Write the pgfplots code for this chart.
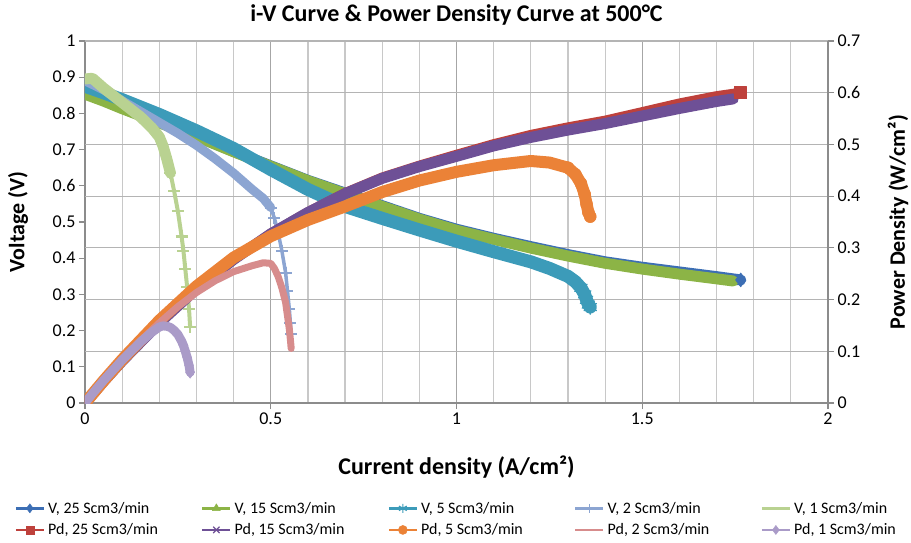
\documentclass[border=0pt]{standalone}
\usepackage{fontspec}
\setmainfont{Carlito}
\usepackage{pgfplots}
\pgfplotsset{compat=1.18}
\definecolor{cBlue}{HTML}{3C6EB4}
\definecolor{cGreen}{HTML}{8CB446}
\definecolor{cTeal}{HTML}{3C9BB9}
\definecolor{cLav}{HTML}{8CA5D2}
\definecolor{cLgreen}{HTML}{B9D291}
\definecolor{cRed}{HTML}{BE413C}
\definecolor{cPurple}{HTML}{6E5096}
\definecolor{cOrange}{HTML}{EB8237}
\definecolor{cPink}{HTML}{D78C8C}
\definecolor{cLilac}{HTML}{AA9BC8}
\definecolor{gridmaj}{HTML}{A6A6A6}
\definecolor{gridmin}{HTML}{C8C8C8}
\definecolor{gridh}{HTML}{B4B4B4}
\definecolor{axisgray}{HTML}{8C8C8C}
\pgfplotsset{
  common/.style={
    at={(0,0)}, anchor=south west, scale only axis,
    width=743pt, height=362pt,
    xmin=0, xmax=2,
    axis line style={draw=axisgray, line width=1.2pt},
    every tick/.style={draw=axisgray, line width=1.2pt},
    major tick length=6pt, minor tick length=0pt, tick align=outside,
    tick label style={font=\fontsize{18}{20}\selectfont, text=black},
    /pgf/number format/assume math mode=true,
    label style={font=\bfseries\fontsize{22}{24}\selectfont},
  },
  band/.style={line width=#1, line join=round, line cap=round, mark=none},
}
\begin{document}
\begin{tikzpicture}[x=1pt,y=1pt]
\path[use as bounding box] (-85,-139) rectangle (826,403);
% ---------- left axis: voltage ----------
\begin{axis}[common,
  ymin=0, ymax=1,
  axis x line*=bottom, axis y line*=left,
  xtick={0,0.5,1,1.5,2},
  minor xtick={0.1,0.2,0.3,0.4,0.6,0.7,0.8,0.9,1.1,1.2,1.3,1.4,1.6,1.7,1.8,1.9},
  ytick={0,0.1,0.2,0.3,0.4,0.5,0.6,0.7,0.8,0.9,1},
  extra y ticks={0.142857,0.285714,0.428571,0.571429,0.714286,0.857143,1},
  extra y tick labels={},
  extra y tick style={grid=major, major grid style={draw=gridh, line width=1.2pt}, major tick length=0pt},
  xmajorgrids, xminorgrids,
  major grid style={draw=gridmaj, line width=1.2pt},
  minor grid style={draw=gridmin, line width=1.2pt},
  xlabel={Current density (A/cm²)},
  xlabel style={font=\bfseries\fontsize{24}{26}\selectfont, at={(axis description cs:0.5,0)}, yshift=-64pt, anchor=center},
  ylabel={Voltage (V)},
  ylabel style={at={(axis description cs:-0.0902,0.5)}, anchor=center},
  title={i-V Curve \& Power Density Curve at 500°C},
  title style={font=\bfseries\fontsize{24}{26}\selectfont, at={(axis description cs:0.5,1)}, yshift=20pt, anchor=center},
]
% V, 25 Scm3/min
\addplot[cBlue, band=11pt, mark=diamond*, mark indices={20}, mark size=7pt, mark options={line width=0.5pt, fill=cBlue}] coordinates {
(0,0.86) (0.05,0.837) (0.1,0.815) (0.2,0.775) (0.3,0.737) (0.4,0.695) (0.5,0.655) (0.6,0.615) (0.7,0.58) (0.8,0.545)
(0.9,0.51) (1.0,0.48) (1.1,0.455) (1.2,0.432) (1.3,0.41) (1.4,0.39) (1.5,0.375) (1.6,0.362) (1.7,0.349) (1.765,0.34)};
% V, 15 Scm3/min
\addplot[cGreen, band=11pt] coordinates {
(0,0.853) (0.05,0.834) (0.1,0.813) (0.2,0.774) (0.3,0.736) (0.4,0.694) (0.5,0.654) (0.6,0.614) (0.7,0.578) (0.8,0.543)
(0.9,0.508) (1.0,0.477) (1.1,0.452) (1.2,0.428) (1.3,0.406) (1.4,0.386) (1.5,0.37) (1.6,0.356) (1.7,0.343) (1.745,0.337)};
% V, 5 Scm3/min
\addplot[cTeal, band=13pt, mark=asterisk, mark indices={18,19,20,21,22}, mark size=7pt, mark options={line width=1.5pt}] coordinates {
(0,0.875) (0.05,0.857) (0.1,0.838) (0.2,0.797) (0.3,0.752) (0.4,0.703) (0.5,0.645) (0.6,0.59) (0.7,0.543) (0.8,0.51)
(0.9,0.478) (1.0,0.447) (1.1,0.418) (1.2,0.39) (1.25,0.372) (1.3,0.35) (1.32,0.335) (1.335,0.318) (1.345,0.3) (1.35,0.285) (1.355,0.272) (1.36,0.265)};
% V, 2 Scm3/min
\addplot[cLav, band=9pt] coordinates {
(0,0.89) (0.05,0.865) (0.1,0.835) (0.15,0.805) (0.2,0.775) (0.25,0.745) (0.3,0.712) (0.35,0.675) (0.4,0.635) (0.45,0.59) (0.48,0.565) (0.5,0.54)};
\addplot[cLav, line width=3.5pt, mark=+, mark size=6pt, mark options={line width=2pt}] coordinates {
(0.5,0.54) (0.51,0.51) (0.52,0.47) (0.53,0.42) (0.54,0.36) (0.545,0.31) (0.55,0.26) (0.553,0.22) (0.555,0.19)};
% V, 1 Scm3/min
\addplot[cLgreen, band=11pt] coordinates {
(0,0.895) (0.02,0.897) (0.05,0.87) (0.1,0.83) (0.15,0.79) (0.18,0.76) (0.2,0.735) (0.21,0.71) (0.22,0.675) (0.23,0.635)};
\addplot[cLgreen, line width=4pt, mark=+, mark size=6pt, mark options={line width=2.5pt}] coordinates {
(0.23,0.635) (0.24,0.585) (0.25,0.53) (0.26,0.46) (0.265,0.42) (0.27,0.37) (0.275,0.32) (0.28,0.26) (0.283,0.21)};
\end{axis}
% ---------- right axis: power density ----------
\begin{axis}[common,
  ymin=0, ymax=0.7,
  axis x line=none, axis y line*=right,
  ytick={0,0.1,0.2,0.3,0.4,0.5,0.6,0.7},
  ylabel={Power Density (W/cm²)},
  ylabel style={at={(axis description cs:1.0942,0.5)}, anchor=center},
  legend image code/.code={\draw[mark repeat=2,mark phase=2,#1] plot coordinates {(0pt,0pt) (14pt,0pt) (28pt,0pt)};},
  legend columns=5,
  legend cell align=left,
  legend style={at={(axis description cs:-0.095,-0.273)}, anchor=north west, draw=none, fill=none,
    font=\fontsize{16}{19}\selectfont, inner sep=0pt, nodes={inner sep=0pt}, row sep=9pt, column sep=3pt},
]
% Pd, 25
\addplot[cRed, band=10pt, mark=square*, mark indices={20}, mark size=6pt, mark options={line width=0.5pt, fill=cRed}, forget plot] coordinates {
(0,0) (0.05,0.0419) (0.1,0.0815) (0.2,0.155) (0.3,0.2211) (0.4,0.278) (0.5,0.3275) (0.6,0.369) (0.7,0.406) (0.8,0.436)
(0.9,0.459) (1.0,0.48) (1.1,0.5005) (1.2,0.5184) (1.3,0.533) (1.4,0.546) (1.5,0.5625) (1.6,0.5792) (1.7,0.5933) (1.765,0.6)};
% Pd, 15
\addplot[cPurple, band=11pt, forget plot] coordinates {
(0,0) (0.05,0.0417) (0.1,0.0813) (0.2,0.1548) (0.3,0.2208) (0.4,0.2776) (0.5,0.327) (0.6,0.3684) (0.7,0.4046) (0.8,0.4344)
(0.9,0.4572) (1.0,0.477) (1.1,0.4972) (1.2,0.5136) (1.3,0.5278) (1.4,0.5404) (1.5,0.555) (1.6,0.5696) (1.7,0.5831) (1.745,0.5881)};
% Pd, 5
\addplot[cOrange, band=12pt, mark=*, mark indices={16,17,18,19,20,21,22}, mark size=6pt, mark options={line width=0.5pt, fill=cOrange}, forget plot] coordinates {
(0,0) (0.05,0.0429) (0.1,0.0838) (0.2,0.1594) (0.3,0.2256) (0.4,0.2812) (0.5,0.3225) (0.6,0.354) (0.7,0.3801) (0.8,0.408)
(0.9,0.4302) (1.0,0.447) (1.1,0.4598) (1.2,0.468) (1.25,0.465) (1.3,0.455) (1.32,0.4422) (1.335,0.4245) (1.345,0.4035) (1.35,0.3848) (1.355,0.3686) (1.36,0.3604)};
% Pd, 2
\addplot[cPink, band=7pt, forget plot] coordinates {
(0,0) (0.05,0.0433) (0.1,0.0835) (0.15,0.1208) (0.2,0.155) (0.25,0.1863) (0.3,0.2136) (0.35,0.2363) (0.4,0.254) (0.45,0.2655)
(0.48,0.2712) (0.5,0.27) (0.51,0.2601) (0.52,0.2444) (0.53,0.2226) (0.54,0.1944) (0.545,0.169) (0.55,0.143) (0.553,0.1217) (0.555,0.1055)};
% Pd, 1
\addplot[cLilac, band=9pt, mark=diamond*, mark indices={13,14,15,16,17,18}, mark size=6pt, mark options={line width=0.5pt, fill=cLilac}, forget plot] coordinates {
(0,0) (0.02,0.0179) (0.05,0.0435) (0.1,0.083) (0.15,0.1185) (0.18,0.1368) (0.2,0.147) (0.21,0.1491) (0.22,0.1485) (0.23,0.1461)
(0.24,0.1404) (0.25,0.1325) (0.26,0.1196) (0.265,0.1113) (0.27,0.0999) (0.275,0.088) (0.28,0.0728) (0.283,0.0594)};
% legend
\addlegendimage{draw=cBlue, line width=2.5pt, mark=diamond*, mark size=4.5pt, mark options={fill=cBlue, line width=0.5pt}}
\addlegendentry{\makebox[150pt][l]{V, 25 Scm3/min}}
\addlegendimage{draw=cGreen, line width=2.5pt, mark=triangle*, mark size=4.5pt, mark options={fill=cGreen, line width=0.5pt}}
\addlegendentry{\makebox[150pt][l]{V, 15 Scm3/min}}
\addlegendimage{draw=cTeal, line width=2.5pt, mark=asterisk, mark size=4.5pt, mark options={line width=1.2pt}}
\addlegendentry{\makebox[150pt][l]{V, 5 Scm3/min}}
\addlegendimage{draw=cLav, line width=2.5pt, mark=+, mark size=4.5pt, mark options={line width=1.2pt}}
\addlegendentry{\makebox[150pt][l]{V, 2 Scm3/min}}
\addlegendimage{draw=cLgreen, line width=2.5pt}
\addlegendentry{\makebox[110pt][l]{V, 1 Scm3/min}}
\addlegendimage{draw=cRed, line width=2.5pt, mark=square*, mark size=4pt, mark options={fill=cRed, line width=0.5pt}}
\addlegendentry{\makebox[150pt][l]{Pd, 25 Scm3/min}}
\addlegendimage{draw=cPurple, line width=2.5pt, mark=x, mark size=4.5pt, mark options={line width=1.2pt}}
\addlegendentry{\makebox[150pt][l]{Pd, 15 Scm3/min}}
\addlegendimage{draw=cOrange, line width=2.5pt, mark=*, mark size=4.5pt, mark options={fill=cOrange, line width=0.5pt}}
\addlegendentry{\makebox[150pt][l]{Pd, 5 Scm3/min}}
\addlegendimage{draw=cPink, line width=2.5pt}
\addlegendentry{\makebox[150pt][l]{Pd, 2 Scm3/min}}
\addlegendimage{draw=cLilac, line width=2.5pt, mark=diamond*, mark size=4.5pt, mark options={fill=cLilac, line width=0.5pt}}
\addlegendentry{\makebox[110pt][l]{Pd, 1 Scm3/min}}
\end{axis}
\end{tikzpicture}
\end{document}
